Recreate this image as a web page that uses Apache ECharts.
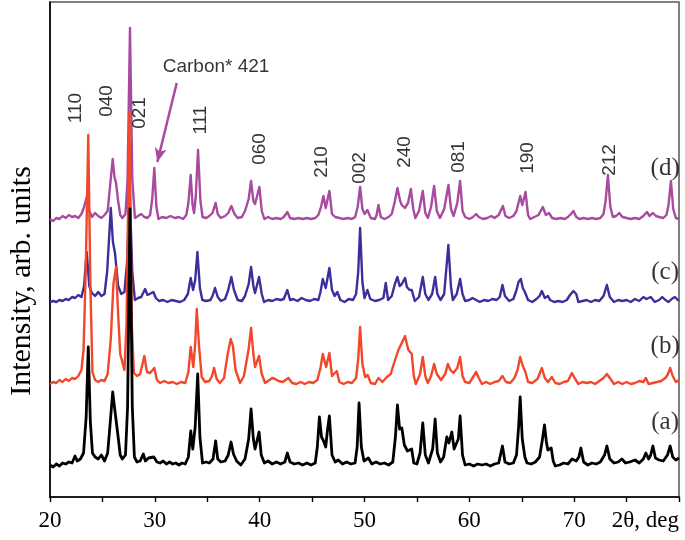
<!DOCTYPE html>
<html>
<head>
<meta charset="utf-8">
<script src="https://cdn.jsdelivr.net/npm/echarts@6/dist/echarts.min.js"></script>
<style>
  html, body { margin: 0; padding: 0; background: #fff; }
  #chart { width: 685px; height: 540px; }
</style>
</head>
<body>
<div id="chart"></div>
<script>
// intensity above each trace's own baseline, [2theta, counts]
var traceA = [[20.0,2],[20.3,0],[20.6,3],[20.9,1],[21.2,4],[21.5,3],[21.8,5],[22.1,4],[22.39,11],[22.6,6],[22.9,8],[23.2,14],[23.45,50],[23.65,120],[23.85,45],[24.05,14],[24.3,10],[24.6,8],[24.9,12],[25.2,6],[25.5,14],[25.75,45],[25.98,75],[26.15,60],[26.3,62],[26.5,30],[26.7,12],[26.9,8],[27.2,12],[27.4,60],[27.63,258],[27.85,60],[28.05,10],[28.3,5],[28.6,6],[28.9,13],[29.1,6],[29.4,9],[29.9,10],[30.2,5],[30.5,4],[30.8,6],[31.1,3],[31.4,5],[31.7,3],[32.0,4],[32.3,2],[32.6,4],[32.9,3],[33.2,10],[33.43,36],[33.62,18],[33.85,40],[34.09,93],[34.3,30],[34.55,4],[34.9,5],[35.2,4],[35.55,8],[35.8,26],[36.0,8],[36.3,5],[36.7,6],[37.0,12],[37.27,25],[37.5,13],[37.8,6],[38.2,2],[38.6,8],[38.95,28],[39.18,58],[39.4,28],[39.56,18],[39.94,35],[40.15,12],[40.45,4],[40.8,6],[41.2,3],[41.6,5],[42.0,3],[42.4,5],[42.64,14],[42.9,5],[43.3,3],[43.7,4],[44.1,2],[44.5,4],[44.9,2],[45.3,4],[45.5,20],[45.7,50],[45.9,30],[46.1,26],[46.3,20],[46.45,35],[46.65,51],[46.9,12],[47.2,5],[47.5,7],[47.9,3],[48.3,5],[48.7,3],[49.1,4],[49.3,20],[49.48,64],[49.7,20],[49.95,6],[50.37,9],[50.7,3],[51.1,5],[51.5,3],[51.9,4],[52.3,2],[52.7,5],[52.95,30],[53.14,62],[53.35,38],[53.56,39],[53.8,22],[54.1,16],[54.5,18],[54.7,4],[55.0,3],[55.3,14],[55.56,44],[55.8,12],[56.1,4],[56.5,18],[56.74,48],[56.95,14],[57.25,5],[57.55,10],[57.85,30],[58.05,24],[58.33,35],[58.55,18],[58.74,16],[58.95,28],[59.12,51],[59.35,12],[59.6,2],[60.0,3],[60.4,1],[60.8,3],[61.2,2],[61.6,3],[62.0,1],[62.4,3],[62.8,4],[63.16,21],[63.4,5],[63.8,3],[64.2,4],[64.5,12],[64.7,40],[64.85,70],[65.05,28],[65.3,10],[65.5,4],[65.9,3],[66.3,5],[66.7,10],[66.95,26],[67.17,42],[67.35,25],[67.49,17],[67.81,19],[68.0,6],[68.2,1],[68.6,2],[69.0,4],[69.4,3],[69.8,8],[70.2,6],[70.45,10],[70.64,19],[70.9,5],[71.3,2],[71.7,4],[72.1,3],[72.5,5],[72.9,12],[73.12,21],[73.4,8],[73.8,4],[74.2,5],[74.55,8],[74.9,4],[75.3,5],[75.81,7],[76.2,4],[76.6,8],[76.84,14],[77.1,8],[77.3,12],[77.51,21],[77.75,9],[78.1,7],[78.5,6],[78.9,12],[79.16,21],[79.4,10],[79.7,7],[80.0,9]];

var traceB = [[20.0,0],[20.3,2],[20.6,1],[20.9,4],[21.2,2],[21.5,5],[21.8,3],[22.1,6],[22.4,5],[22.7,8],[23.0,14],[23.2,34],[23.4,110],[23.65,249],[23.85,100],[24.05,12],[24.3,4],[24.6,2],[24.9,4],[25.2,3],[25.5,10],[25.8,45],[26.05,100],[26.3,117],[26.5,70],[26.7,30],[26.85,24],[27.1,14],[27.3,60],[27.57,272],[27.8,60],[28.0,11],[28.3,8],[28.6,10],[29.0,28],[29.25,12],[29.55,11],[29.95,16],[30.2,4],[30.5,1],[30.9,3],[31.3,1],[31.7,2],[32.1,0],[32.5,2],[32.9,1],[33.2,12],[33.42,37],[33.67,17],[33.85,40],[34.0,75],[34.2,40],[34.47,7],[34.8,2],[35.2,3],[35.45,8],[35.65,16],[35.9,5],[36.2,1],[36.6,6],[36.95,30],[37.24,45],[37.45,38],[37.7,14],[38.13,1],[38.5,8],[38.95,35],[39.18,56],[39.4,30],[39.56,17],[39.94,28],[40.2,10],[40.52,1],[40.8,3],[41.2,6],[41.47,5],[41.8,3],[42.2,2],[42.74,6],[43.1,1],[43.5,0],[43.9,2],[44.3,0],[44.7,2],[45.1,1],[45.5,4],[45.8,16],[46.02,30],[46.34,17],[46.65,31],[46.9,8],[47.36,13],[47.6,2],[48.0,0],[48.4,2],[48.8,1],[49.2,6],[49.4,25],[49.58,57],[49.8,20],[50.06,7],[50.3,9],[50.6,1],[51.0,0],[51.33,6],[51.7,2],[52.13,7],[52.5,10],[52.76,19],[53.23,34],[53.6,42],[53.87,48],[54.04,40],[54.19,34],[54.51,30],[54.7,8],[54.9,0],[55.3,10],[55.56,27],[55.8,8],[56.04,1],[56.35,8],[56.64,20],[56.9,10],[57.3,4],[57.7,10],[57.95,20],[58.2,14],[58.48,11],[58.85,16],[59.12,27],[59.35,8],[59.6,2],[60.0,1],[60.3,6],[60.65,12],[60.9,6],[61.2,0],[61.6,2],[62.0,0],[62.4,2],[62.8,3],[63.16,8],[63.5,2],[63.9,1],[64.3,6],[64.6,14],[64.85,27],[65.1,18],[65.35,12],[65.6,2],[66.0,1],[66.5,5],[66.92,16],[67.2,6],[67.5,2],[67.87,7],[68.2,1],[68.6,0],[69.0,2],[69.4,3],[69.78,11],[70.1,5],[70.4,0],[70.8,2],[71.2,1],[71.6,2],[72.0,0],[72.4,3],[72.8,6],[73.12,10],[73.4,6],[73.8,0],[74.2,2],[74.6,0],[75.0,2],[75.4,0],[75.8,1],[76.2,3],[76.6,2],[76.84,6],[77.1,0],[77.5,1],[77.9,2],[78.3,3],[78.7,6],[78.95,10],[79.16,16],[79.4,8],[79.7,2],[80.0,4]];

var traceC = [[20.0,0],[20.3,1],[20.6,0],[20.9,2],[21.2,1],[21.5,3],[21.8,2],[22.1,5],[22.4,4],[22.7,7],[23.0,5],[23.25,16],[23.5,50],[23.75,16],[24.0,9],[24.3,6],[24.6,10],[24.9,6],[25.2,8],[25.45,30],[25.8,94],[26.0,60],[26.2,49],[26.5,16],[26.8,8],[27.1,10],[27.35,40],[27.6,110],[27.85,30],[28.1,2],[28.4,4],[28.7,5],[29.07,13],[29.3,7],[29.5,8],[29.86,10],[30.1,4],[30.4,1],[30.8,2],[31.2,0],[31.6,2],[32.0,1],[32.4,0],[32.8,2],[33.15,8],[33.42,24],[33.65,12],[33.85,22],[34.06,50],[34.3,14],[34.53,2],[34.9,1],[35.3,2],[35.5,6],[35.74,14],[36.0,5],[36.3,1],[36.7,3],[37.0,12],[37.3,25],[37.55,12],[37.9,2],[38.3,1],[38.6,6],[38.95,18],[39.18,35],[39.4,16],[39.56,9],[39.94,25],[40.2,8],[40.42,0],[40.8,2],[41.2,1],[41.6,3],[42.0,2],[42.3,3],[42.64,12],[42.9,2],[43.2,3],[43.6,1],[44.0,4],[44.4,2],[44.8,1],[45.2,3],[45.6,2],[45.8,10],[46.02,23],[46.3,14],[46.65,34],[46.9,12],[47.15,6],[47.41,10],[47.7,2],[48.1,0],[48.5,3],[48.9,2],[49.2,8],[49.4,30],[49.58,74],[49.8,20],[50.0,4],[50.28,12],[50.55,3],[51.0,1],[51.4,2],[51.8,4],[52.03,19],[52.25,2],[52.6,6],[52.9,18],[53.14,25],[53.35,16],[53.56,18],[53.87,24],[54.04,15],[54.3,12],[54.51,12],[54.8,1],[55.2,5],[55.56,25],[55.8,8],[56.1,2],[56.45,8],[56.74,25],[56.95,8],[57.25,2],[57.6,8],[58.0,57],[58.25,15],[58.43,2],[58.8,8],[59.12,23],[59.35,8],[59.6,1],[60.0,2],[60.3,4],[60.65,2],[61.0,0],[61.4,2],[61.8,1],[62.2,3],[62.6,2],[62.9,5],[63.16,17],[63.4,6],[63.8,1],[64.2,3],[64.5,12],[64.69,20],[64.91,23],[65.1,14],[65.3,10],[65.6,2],[66.0,0],[66.4,3],[66.7,6],[66.92,11],[67.2,4],[67.5,6],[67.7,2],[68.1,0],[68.5,1],[68.9,0],[69.3,2],[69.6,7],[69.93,11],[70.2,8],[70.4,0],[70.8,1],[71.2,2],[71.6,0],[72.0,2],[72.4,1],[72.8,6],[73.12,17],[73.4,5],[73.8,0],[74.2,2],[74.6,1],[75.0,2],[75.4,0],[75.8,3],[76.2,1],[76.6,5],[76.9,3],[77.3,5],[77.7,0],[78.1,2],[78.4,5],[78.7,2],[79.0,0],[79.3,3],[79.6,5],[80.0,1]];

var traceD = [[20.0,0],[20.3,-2],[20.6,1],[20.9,0],[21.2,3],[21.5,1],[21.8,4],[22.1,2],[22.4,3],[22.7,1],[23.0,5],[23.25,12],[23.5,22],[23.75,8],[24.0,2],[24.3,6],[24.6,3],[24.9,1],[25.2,4],[25.5,8],[25.75,35],[25.98,60],[26.15,42],[26.3,36],[26.5,18],[26.7,4],[26.9,1],[27.2,5],[27.4,40],[27.63,191],[27.85,40],[28.1,1],[28.4,3],[28.7,5],[29.0,2],[29.3,1],[29.55,4],[29.75,20],[29.95,51],[30.15,12],[30.35,0],[30.7,2],[31.1,1],[31.5,3],[31.9,1],[32.3,2],[32.7,0],[33.0,4],[33.2,16],[33.42,44],[33.6,14],[33.74,6],[33.9,22],[34.12,69],[34.35,18],[34.55,2],[34.9,1],[35.2,3],[35.5,6],[35.8,16],[36.0,5],[36.3,1],[36.7,3],[37.0,6],[37.3,13],[37.6,5],[37.9,1],[38.3,2],[38.6,8],[38.95,20],[39.18,38],[39.4,18],[39.56,15],[39.97,32],[40.2,8],[40.45,0],[40.8,2],[41.2,0],[41.6,1],[42.0,0],[42.3,2],[42.64,7],[42.9,1],[43.3,0],[43.7,1],[44.1,0],[44.5,1],[44.9,0],[45.3,1],[45.6,4],[45.85,12],[46.08,23],[46.3,11],[46.65,28],[46.9,5],[47.2,2],[47.6,1],[48.0,0],[48.4,1],[48.8,0],[49.1,2],[49.35,12],[49.58,32],[49.8,10],[50.0,5],[50.28,9],[50.6,1],[51.0,0],[51.15,4],[51.33,14],[51.55,2],[51.9,0],[52.3,2],[52.6,5],[52.9,18],[53.14,31],[53.4,18],[53.56,14],[53.85,11],[54.15,16],[54.42,30],[54.65,10],[54.85,1],[55.2,8],[55.56,28],[55.8,6],[56.05,1],[56.35,12],[56.64,33],[56.9,8],[57.2,1],[57.6,10],[58.01,34],[58.25,10],[58.5,3],[58.85,16],[59.12,38],[59.35,8],[59.6,2],[60.0,0],[60.35,2],[60.65,5],[60.9,2],[61.3,0],[61.7,1],[62.1,3],[62.4,1],[62.8,4],[63.2,13],[63.45,3],[63.8,1],[64.2,3],[64.5,8],[64.85,23],[65.05,14],[65.36,27],[65.6,4],[65.8,0],[66.2,2],[66.6,4],[67.01,12],[67.3,4],[67.6,6],[67.9,1],[68.3,0],[68.7,1],[69.1,0],[69.4,2],[69.7,5],[69.93,8],[70.2,2],[70.5,0],[70.9,1],[71.3,0],[71.7,1],[72.1,0],[72.5,1],[72.8,5],[73.0,18],[73.22,44],[73.45,12],[73.7,2],[74.0,3],[74.3,6],[74.6,2],[75.0,1],[75.4,0],[75.8,1],[76.2,0],[76.6,3],[76.94,7],[77.2,3],[77.5,6],[77.8,3],[78.1,2],[78.5,1],[78.8,4],[79.0,14],[79.23,38],[79.45,10],[79.7,1],[80.0,0]];

// vertical shift of each trace
var offsets = [30, 113, 195, 278];
var traceNames = ['(a)', '(b)', '(c)', '(d)'];
var traceColors = ['#000000', '#f2472a', '#3b2f9c', '#a84a9f'];
var tracePos = [[78.68, 75], [78.68, 151], [78.68, 225], [78.68, 329]];

// hkl labels: text, 2theta, height
var hklText = ['110', '040', '021', '111', '060', '210', '002', '240', '081', '190', '212'];
var hklX = [22.43, 25.39, 28.59, 34.36, 40.04, 45.91, 49.58, 53.83, 58.98, 65.61, 73.44];
var hklY = [389, 396, 384, 377, 348, 335, 329, 345, 340, 339, 337];

var carbonText = 'Carbon* 421';
var carbonPos = [35.84, 430];
var arrowFrom = [32.09, 414];
var arrowTo = [30.24, 335];

var xTicks = [20, 30, 40, 50, 60, 70];

var chart = echarts.init(document.getElementById('chart'));

function shift(arr, off) {
  return arr.map(function (p) { return [p[0], p[1] + off]; });
}

var traces = [traceA, traceB, traceC, traceD];
var series = [];
traces.forEach(function (t, i) {
  series.push({
    name: traceNames[i],
    type: 'line',
    data: shift(t, offsets[i]),
    showSymbol: false,
    symbol: 'none',
    smooth: false,
    z: 10 - i,
    lineStyle: { color: traceColors[i], width: i === 0 ? 2.8 : 2.4, join: 'round' }
  });
});

series[3].markLine = {
  silent: true,
  symbol: ['none', 'arrow'],
  symbolSize: [9, 14],
  label: { show: false },
  lineStyle: { color: '#a84a9f', width: 2.5, type: 'solid' },
  data: [[{ coord: arrowFrom }, { coord: arrowTo }]]
};

series.push({
  type: 'scatter',
  symbolSize: 0,
  z: 20,
  data: hklText.map(function (s, i) { return { name: s, value: [hklX[i], hklY[i]] }; }),
  label: {
    show: true,
    position: 'inside',
    rotate: 90,
    formatter: '{b}',
    color: '#000',
    fontFamily: 'Liberation Sans',
    fontSize: 19
  }
});

series.push({
  type: 'scatter',
  symbolSize: 0,
  z: 20,
  data: traceNames.map(function (s, i) { return { name: s, value: tracePos[i] }; }),
  label: {
    show: true,
    position: 'inside',
    formatter: '{b}',
    color: '#000',
    fontFamily: 'Liberation Serif',
    fontSize: 25
  }
});

series.push({
  type: 'scatter',
  symbolSize: 0,
  z: 20,
  data: [{ name: carbonText, value: carbonPos }],
  label: {
    show: true,
    position: 'inside',
    formatter: '{b}',
    color: '#000',
    fontFamily: 'Liberation Sans',
    fontSize: 19
  }
});

chart.setOption({
  animation: false,
  grid: {
    left: 50, right: 6, top: 2, bottom: 43,
    outerBoundsMode: 'none',
    containLabel: false,
    show: true, borderColor: '#555', borderWidth: 1.5, backgroundColor: 'transparent'
  },
  graphic: [{
    type: 'text',
    x: 22,
    y: 281,
    rotation: Math.PI / 2,
    style: {
      text: 'Intensity, arb. units',
      fill: '#000',
      font: '30px "Liberation Serif"',
      textAlign: 'center',
      textVerticalAlign: 'middle'
    }
  }],
  xAxis: {
    type: 'value',
    min: 20,
    max: 80,
    interval: 5,
    splitLine: { show: false },
    axisLine: { lineStyle: { color: '#000', width: 1.6 } },
    axisTick: { inside: false, length: 5, lineStyle: { color: '#000', width: 1.4 } },
    axisLabel: {
      margin: 12,
      color: '#000',
      fontFamily: 'Liberation Serif',
      fontSize: 23,
      showMaxLabel: true,
      alignMaxLabel: 'right',
      formatter: function (v) {
        if (v === 80) return '2θ, deg';
        return xTicks.indexOf(v) >= 0 ? String(v) : '';
      }
    }
  },
  yAxis: {
    type: 'value',
    min: 0,
    max: 495,
    splitLine: { show: false },
    axisLine: { show: true, lineStyle: { color: '#000', width: 1.6 } },
    axisTick: { show: false },
    axisLabel: { show: false }
  },
  series: series
});
</script>
</body>
</html>
